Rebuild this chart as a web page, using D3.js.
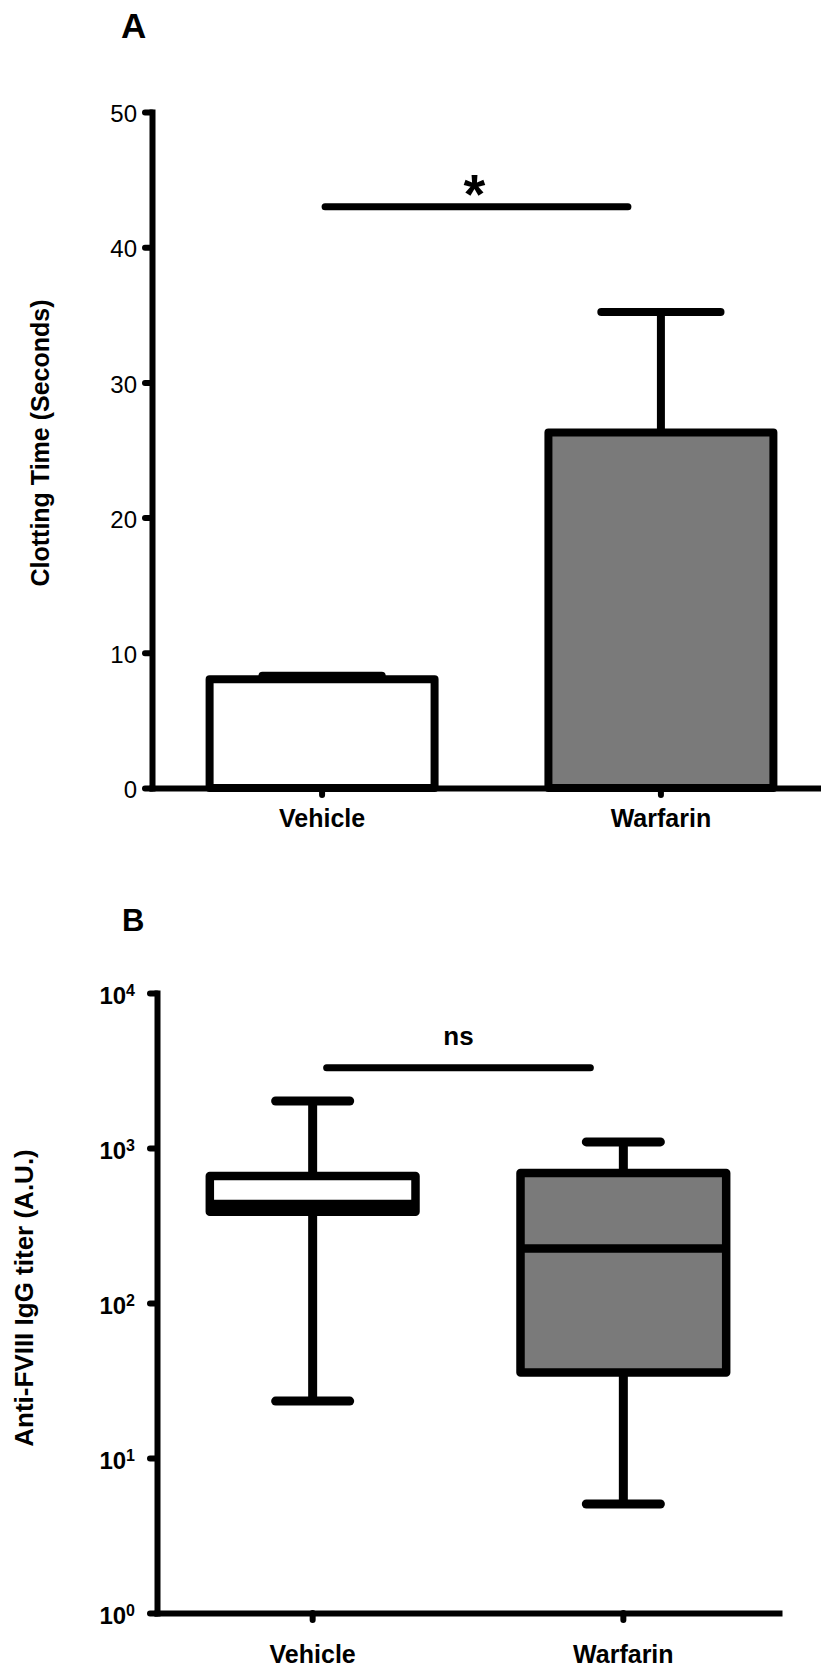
<!DOCTYPE html>
<html>
<head>
<meta charset="utf-8">
<script src="https://cdn.jsdelivr.net/npm/d3@7"></script>
<style>
  body { margin: 0; background: #fff; }
  svg { display: block; }
</style>
</head>
<body>
<svg id="chart" width="821" height="1672"></svg>
<script>
// Data
const groups = ["Vehicle", "Warfarin"]
const fills = ["#ffffff", "#7a7a7a"]

// Panel A: clotting time (seconds), mean and top of error bar
const clotMean = [8.05, 26.3]
const clotUpper = [8.3, 35.2]
const clotTicks = [0, 10, 20, 30, 40, 50]
const clotSig = { from: "Vehicle", to: "Warfarin", value: 43, label: "*" }

// Panel B: anti-FVIII IgG titer, box plot (min, q1, median, q3, max)
const titerMin = [23.3, 5.05]
const titerQ1 = [388, 35.6]
const titerMedian = [436, 225]
const titerQ3 = [660, 690]
const titerMax = [2010, 1095]
const titerTicks = [1, 10, 100, 1000, 10000]
const titerSig = { from: "Vehicle", to: "Warfarin", value: 3300, label: "ns" }

// Globals
const svg = d3.select("#chart")
const font = "'Liberation Sans', Arial, sans-serif"

function styleAxis(g, w) {
  g.attr("font-family", font)
  g.select(".domain").attr("stroke", "#000").attr("stroke-width", w).attr("stroke-linecap", "square")
  g.selectAll(".tick line").attr("stroke", "#000").attr("stroke-width", w).attr("stroke-linecap", "round")
  g.selectAll(".tick text").attr("fill", "#000")
}

// ---------------- Panel A ----------------
const yA = d3.scaleLinear().domain([0, 50]).range([788, 112])
const xA = d3.scaleBand().domain(groups).range([152, 831]).paddingInner(0.336).paddingOuter(0.17)
const gA = svg.append("g")
const bwA = xA.bandwidth()

gA.selectAll("rect.bar")
  .data(groups)
  .join("rect")
    .attr("class", "bar")
    .attr("x", d => xA(d))
    .attr("width", bwA)
    .attr("y", (d, i) => yA(clotMean[i]))
    .attr("height", (d, i) => yA(0) - yA(clotMean[i]))
    .attr("fill", (d, i) => fills[i])
    .attr("stroke", "#000")
    .attr("stroke-width", 8)
    .attr("stroke-linejoin", "round")

// error bars (upper only)
gA.selectAll("line.err")
  .data(groups)
  .join("line")
    .attr("class", "err")
    .attr("x1", d => xA(d) + bwA / 2)
    .attr("x2", d => xA(d) + bwA / 2)
    .attr("y1", (d, i) => yA(clotMean[i]))
    .attr("y2", (d, i) => yA(clotUpper[i]))
    .attr("stroke", "#000")
    .attr("stroke-width", 8)

gA.selectAll("line.cap")
  .data(groups)
  .join("line")
    .attr("class", "cap")
    .attr("x1", d => xA(d) + bwA / 2 - bwA * 0.265)
    .attr("x2", d => xA(d) + bwA / 2 + bwA * 0.265)
    .attr("y1", (d, i) => yA(clotUpper[i]))
    .attr("y2", (d, i) => yA(clotUpper[i]))
    .attr("stroke", "#000")
    .attr("stroke-width", 8)
    .attr("stroke-linecap", "round")

gA.append("g")
  .attr("transform", "translate(152,0)")
  .call(d3.axisLeft(yA).tickValues(clotTicks).tickSize(7).tickSizeOuter(0).tickPadding(8))
  .call(g => styleAxis(g, 6))
  .call(g => g.selectAll(".tick text").attr("font-size", 24).attr("dy", "0.4em"))

gA.append("g")
  .attr("transform", `translate(0,${yA(0)})`)
  .call(d3.axisBottom(xA).tickSize(7).tickSizeOuter(0).tickPadding(14))
  .call(g => styleAxis(g, 6))
  .call(g => g.selectAll(".tick text").attr("font-size", 25).attr("font-weight", "bold"))

// significance bar
const sigAy = yA(clotSig.value)
const sigAx1 = xA(clotSig.from) + bwA / 2 + 3
const sigAx2 = xA(clotSig.to) + bwA / 2 - 33
gA.append("line")
  .attr("x1", sigAx1).attr("x2", sigAx2)
  .attr("y1", sigAy).attr("y2", sigAy)
  .attr("stroke", "#000").attr("stroke-width", 7).attr("stroke-linecap", "round")
gA.append("text")
  .attr("x", (sigAx1 + sigAx2) / 2 - 2)
  .attr("y", sigAy + 6)
  .attr("text-anchor", "middle")
  .attr("font-family", font).attr("font-weight", "bold").attr("font-size", 56)
  .text(clotSig.label)

gA.append("text")
  .attr("transform", "translate(49,443) rotate(-90)")
  .attr("text-anchor", "middle")
  .attr("font-family", font).attr("font-weight", "bold").attr("font-size", 25)
  .text("Clotting Time (Seconds)")

svg.append("text")
  .attr("x", 121).attr("y", 38)
  .attr("font-family", font).attr("font-weight", "bold").attr("font-size", 35)
  .text("A")

// ---------------- Panel B ----------------
const yB = d3.scaleLog().domain([1, 10000]).range([1613, 993])
const xB = d3.scaleBand().domain(groups).range([157, 779]).paddingInner(0.338).paddingOuter(0.17)
const gB = svg.append("g")
const bwB = xB.bandwidth()
const capB = bwB * 0.18

// whiskers
gB.selectAll("line.whiskUp")
  .data(groups)
  .join("line")
    .attr("x1", d => xB(d) + bwB / 2).attr("x2", d => xB(d) + bwB / 2)
    .attr("y1", (d, i) => yB(titerQ3[i])).attr("y2", (d, i) => yB(titerMax[i]))
    .attr("stroke", "#000").attr("stroke-width", 9)
gB.selectAll("line.whiskDown")
  .data(groups)
  .join("line")
    .attr("x1", d => xB(d) + bwB / 2).attr("x2", d => xB(d) + bwB / 2)
    .attr("y1", (d, i) => yB(titerQ1[i])).attr("y2", (d, i) => yB(titerMin[i]))
    .attr("stroke", "#000").attr("stroke-width", 9)
gB.selectAll("line.capMax")
  .data(groups)
  .join("line")
    .attr("x1", d => xB(d) + bwB / 2 - capB).attr("x2", d => xB(d) + bwB / 2 + capB)
    .attr("y1", (d, i) => yB(titerMax[i])).attr("y2", (d, i) => yB(titerMax[i]))
    .attr("stroke", "#000").attr("stroke-width", 9).attr("stroke-linecap", "round")
gB.selectAll("line.capMin")
  .data(groups)
  .join("line")
    .attr("x1", d => xB(d) + bwB / 2 - capB).attr("x2", d => xB(d) + bwB / 2 + capB)
    .attr("y1", (d, i) => yB(titerMin[i])).attr("y2", (d, i) => yB(titerMin[i]))
    .attr("stroke", "#000").attr("stroke-width", 9).attr("stroke-linecap", "round")

// boxes
gB.selectAll("rect.box")
  .data(groups)
  .join("rect")
    .attr("class", "box")
    .attr("x", d => xB(d))
    .attr("width", bwB)
    .attr("y", (d, i) => yB(titerQ3[i]))
    .attr("height", (d, i) => yB(titerQ1[i]) - yB(titerQ3[i]))
    .attr("fill", (d, i) => fills[i])
    .attr("stroke", "#000")
    .attr("stroke-width", 8.5)
    .attr("stroke-linejoin", "round")
gB.selectAll("line.median")
  .data(groups)
  .join("line")
    .attr("x1", d => xB(d)).attr("x2", d => xB(d) + bwB)
    .attr("y1", (d, i) => yB(titerMedian[i])).attr("y2", (d, i) => yB(titerMedian[i]))
    .attr("stroke", "#000").attr("stroke-width", 8.5)

gB.append("g")
  .attr("transform", "translate(157,0)")
  .call(d3.axisLeft(yB).tickValues(titerTicks).tickSize(7).tickSizeOuter(0).tickPadding(15))
  .call(g => styleAxis(g, 6))
  .call(g => g.selectAll(".tick text")
    .attr("font-size", 24).attr("font-weight", "bold").attr("dy", "0.42em")
    .each(function(d) {
      let t = d3.select(this).text(null)
      t.append("tspan").text("10")
      t.append("tspan").attr("dy", "-0.5em").attr("font-size", 16).text(Math.round(Math.log10(d)))
    }))

gB.append("g")
  .attr("transform", `translate(0,${yB(1)})`)
  .call(d3.axisBottom(xB).tickSize(7).tickSizeOuter(0).tickPadding(25))
  .call(g => styleAxis(g, 6))
  .call(g => g.selectAll(".tick text").attr("font-size", 25).attr("font-weight", "bold"))

const sigBy = yB(titerSig.value)
const sigBx1 = xB(titerSig.from) + bwB / 2 + 14
const sigBx2 = xB(titerSig.to) + bwB / 2 - 33
gB.append("line")
  .attr("x1", sigBx1).attr("x2", sigBx2)
  .attr("y1", sigBy).attr("y2", sigBy)
  .attr("stroke", "#000").attr("stroke-width", 7).attr("stroke-linecap", "round")
gB.append("text")
  .attr("x", (sigBx1 + sigBx2) / 2)
  .attr("y", sigBy - 23)
  .attr("text-anchor", "middle")
  .attr("font-family", font).attr("font-weight", "bold").attr("font-size", 26)
  .text(titerSig.label)

gB.append("text")
  .attr("transform", "translate(33,1298) rotate(-90)")
  .attr("text-anchor", "middle")
  .attr("font-family", font).attr("font-weight", "bold").attr("font-size", 26)
  .text("Anti-FVIII IgG titer (A.U.)")

svg.append("text")
  .attr("x", 122).attr("y", 931)
  .attr("font-family", font).attr("font-weight", "bold").attr("font-size", 31)
  .text("B")
</script>
</body>
</html>
